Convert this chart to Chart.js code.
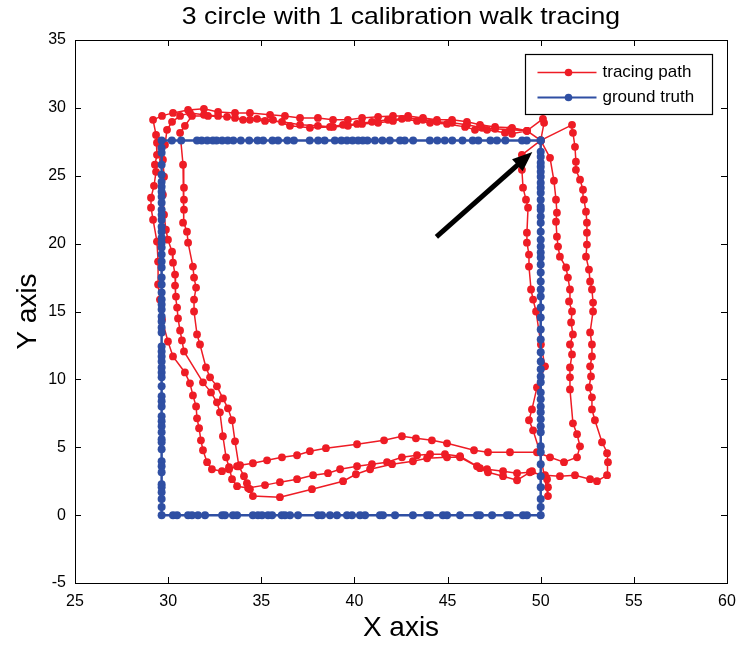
<!DOCTYPE html>
<html>
<head>
<meta charset="utf-8">
<title>3 circle with 1 calibration walk tracing</title>
<script src="https://cdn.jsdelivr.net/npm/chart.js@4.4.1/dist/chart.umd.min.js"></script>
<style>
  html, body { margin: 0; padding: 0; background: #fff; }
  #walkChart { display: block; }
</style>
</head>
<body>
<canvas id="walkChart" width="741" height="646"></canvas>
<script>
// ground truth rectangle: corners and the recorded sample positions along each side
const truthLeft = 29.65;
const truthRight = 50.0;
const truthTop = 27.6;
const truthBottom = 0;

// top side, right to left
const truthTopX = [50.0, 49.25, 49.0, 48.1, 47.65, 47.3, 46.65, 46.35, 45.8, 45.25, 44.85, 44.45, 44.05,
  43.15, 42.7, 42.45, 41.9, 41.5, 41.1, 40.7, 40.45, 40.2, 39.9, 39.6, 39.3, 38.95, 38.4, 38.05, 37.6,
  36.75, 36.4, 35.9, 35.6, 35.1, 34.8, 34.35, 33.9, 33.5, 33.2, 32.9, 32.6, 32.4, 32.1, 31.8, 31.55,
  30.7, 30.2, 29.65];
// left side, top to bottom
const truthLeftY = [27.06, 26.69, 25.81, 25.07, 24.56, 24.19, 23.82, 23.46, 23.01, 22.5, 22.13, 21.76,
  21.25, 20.88, 20.44, 20.07, 19.71, 19.19, 18.68, 18.24, 17.5, 16.99, 16.4, 15.88, 15.51, 15.15, 14.63,
  14.26, 13.82, 13.46, 12.43, 12.06, 11.69, 11.32, 10.88, 10.51, 10.15, 9.49, 8.75, 8.38, 8.01, 7.28,
  6.91, 6.54, 6.1, 5.59, 5.37, 4.85, 3.97, 3.6, 3.16, 2.28, 2.06, 1.69, 1.18, 0.59, 0];
// bottom side, left to right
const truthBottomX = [30.26, 30.48, 31.07, 31.28, 31.6, 31.98, 32.9, 33.05, 33.48, 33.7, 34.55, 34.82,
  35.04, 35.36, 35.58, 36.1, 36.27, 36.54, 36.97, 38.04, 38.26, 38.69, 39.06, 39.6, 39.87, 40.3, 40.57,
  41.37, 41.53, 42.18, 43.14, 43.9, 44.06, 44.75, 44.97, 45.67, 46.58, 46.74, 47.39, 48.19, 48.35,
  49.05, 49.26, 50.0];
// right side, bottom to top
const truthRightY = [0.59, 1.18, 2.06, 2.87, 3.75, 4.63, 5.07, 6.1, 6.54, 7.06, 7.57, 8.01, 8.53, 9.04,
  9.78, 10.22, 10.74, 11.32, 11.99, 12.94, 13.68, 14.56, 15.29, 16.1, 16.62, 17.21, 17.87, 18.46,
  18.97, 19.34, 19.78, 20.29, 20.88, 21.54, 21.99, 22.5, 22.72, 23.24, 23.75, 24.12, 24.49, 24.93,
  25.29, 25.66, 25.96, 26.4, 26.76, 27.6];

// estimated walk, one array per lap
const lap1 = [
  [50.0, 27.6], [49.26, 28.31], [48.46, 28.53], [47.55, 28.6], [46.74, 28.75], [46.04, 28.97],
  [45.24, 29.12], [44.43, 29.12], [43.68, 29.26], [42.88, 29.41], [42.07, 29.41], [41.27, 29.34],
  [40.41, 29.26], [39.65, 29.12], [38.85, 29.12], [38.04, 29.26], [37.08, 29.26], [36.27, 29.41],
  [35.47, 29.49], [34.39, 29.63], [33.59, 29.63], [32.68, 29.7], [31.92, 29.93], [31.07, 29.85],
  [30.26, 29.63], [29.67, 29.41], [29.19, 29.12],
  [29.35, 28.01], [29.4, 27.43], [29.4, 26.54], [29.29, 25.81], [29.35, 25.29], [29.24, 24.26],
  [29.08, 23.38], [29.08, 22.65], [29.19, 21.76], [29.4, 20.15], [29.46, 18.68], [29.46, 16.99],
  [29.56, 15.88], [29.67, 14.41], [29.99, 12.79], [30.26, 11.69], [30.9, 10.51], [31.17, 9.71],
  [31.33, 8.82], [31.5, 8.01], [31.55, 7.13], [31.66, 6.4], [31.76, 5.51], [31.87, 4.78],
  [32.09, 3.9], [32.35, 3.38], [32.89, 3.24], [33.27, 3.38], [33.7, 3.6], [33.86, 3.68],
  [34.55, 3.82], [35.31, 4.04], [36.11, 4.26], [36.92, 4.41], [37.61, 4.71], [38.47, 4.93],
  [40.14, 5.22], [41.59, 5.51], [42.55, 5.81], [43.3, 5.66], [44.16, 5.51], [44.97, 5.29],
  [46.42, 4.78], [47.17, 4.63], [48.35, 4.63], [49.8, 4.63], [50.5, 4.26], [51.25, 3.9],
  [51.95, 4.26], [52.11, 5.07], [51.95, 5.96], [51.73, 6.76],
  [51.57, 9.26], [51.57, 10.15], [51.57, 10.88], [51.68, 11.84], [51.57, 12.57], [51.73, 13.31],
  [51.63, 14.19], [51.68, 15.0], [51.52, 15.74], [51.57, 16.62], [51.46, 17.5], [51.36, 18.24],
  [51.03, 19.04], [50.93, 19.78], [50.87, 20.51], [50.82, 21.62], [50.87, 22.28], [50.82, 23.24],
  [50.71, 24.63], [50.5, 26.32], [50.0, 27.6], [50.18, 28.9], [50.12, 29.19]
];
const lap2 = [
  [49.26, 28.31], [48.35, 28.38], [47.55, 28.46], [46.85, 28.53], [46.04, 28.75], [45.24, 28.9],
  [44.43, 28.97], [43.68, 29.12], [42.88, 29.26], [42.07, 29.04], [41.27, 28.9], [40.41, 28.82],
  [39.65, 28.68], [38.85, 28.6], [38.04, 28.68], [37.08, 28.75], [36.11, 28.97], [35.2, 29.04],
  [34.39, 29.12], [33.59, 29.26], [32.68, 29.41], [31.92, 29.49], [31.17, 29.63], [30.64, 29.41],
  [30.21, 28.97], [29.94, 28.38],
  [29.83, 27.28], [29.72, 26.18], [29.78, 24.93], [29.72, 23.6], [29.78, 22.13], [29.88, 21.03],
  [29.99, 20.29], [30.21, 19.41], [30.26, 18.6], [30.37, 17.72], [30.37, 16.91], [30.42, 16.1],
  [30.48, 15.29], [30.53, 14.49], [30.64, 13.6], [30.74, 12.87], [30.85, 12.06], [31.87, 9.78],
  [32.3, 9.04], [32.62, 8.31], [32.78, 7.57], [32.94, 5.81], [33.11, 4.26], [33.27, 3.53],
  [33.43, 2.65], [33.7, 2.13], [34.29, 1.99], [35.2, 2.21], [36.0, 2.43],
  [36.92, 2.65], [37.78, 2.94], [38.58, 3.09], [39.23, 3.38], [40.14, 3.6], [40.94, 3.75],
  [41.75, 3.9], [42.55, 4.26], [43.36, 4.41], [44.06, 4.49], [44.86, 4.49], [45.67, 4.34],
  [46.58, 3.6], [47.12, 3.38], [47.98, 3.24], [48.73, 3.09], [49.42, 3.16], [50.23, 2.94],
  [51.03, 2.87], [51.84, 2.94], [52.65, 2.65], [53.02, 2.5], [53.56, 2.94], [53.61, 3.9],
  [53.56, 4.56], [53.29, 5.37], [52.91, 6.99], [52.75, 7.79], [52.75, 8.68], [52.59, 9.41],
  [52.7, 10.22], [52.65, 10.96], [52.75, 11.69], [52.75, 12.57], [52.65, 13.46], [52.81, 15.0],
  [52.81, 15.66], [52.75, 16.62], [52.65, 17.21], [52.59, 18.09], [52.43, 19.04], [52.48, 19.93],
  [52.48, 20.81], [52.48, 21.54], [52.43, 22.35], [52.32, 23.24], [52.27, 23.97], [52.11, 24.71],
  [51.89, 25.44], [51.89, 26.03], [51.84, 27.13], [51.73, 28.16], [51.68, 28.75], [50.0, 27.6]
];
const lap3 = [
  [49.26, 28.31], [48.46, 28.09], [48.08, 28.16], [47.12, 28.38], [46.47, 28.38], [45.94, 28.6],
  [44.97, 28.82], [44.06, 28.9], [43.36, 29.04], [42.55, 29.19], [41.8, 29.12], [40.94, 28.97],
  [40.14, 28.82], [39.39, 28.75], [38.69, 28.6], [37.61, 28.53], [36.54, 28.68], [35.63, 29.12],
  [34.77, 29.19], [34.02, 29.12], [33.16, 29.34], [32.14, 29.41], [31.28, 29.41], [30.9, 28.68],
  [30.64, 28.16],
  [30.8, 25.81], [30.85, 24.12], [30.85, 23.24], [30.85, 22.5], [30.8, 21.54], [31.01, 20.88],
  [31.07, 20.07], [31.33, 18.31], [31.39, 17.5], [31.5, 16.76], [31.39, 15.88], [31.39, 15.0],
  [31.55, 13.31], [31.71, 12.57], [32.03, 10.88], [32.25, 10.15], [32.62, 9.49], [32.94, 8.6],
  [33.21, 7.87], [33.43, 6.99], [33.59, 5.44], [33.8, 3.6], [34.07, 2.87], [34.23, 2.35],
  [34.39, 1.91], [34.55, 1.4], [36.0, 1.32], [37.72, 1.91], [39.39, 2.5], [40.08, 3.01],
  [40.84, 3.38], [42.02, 3.75], [43.14, 3.97], [43.9, 4.19], [44.97, 4.26], [45.67, 4.26],
  [46.74, 3.46], [47.17, 3.16], [47.98, 2.87], [48.73, 2.57], [49.53, 3.24], [50.34, 2.65],
  [50.39, 2.06], [50.39, 1.4], [49.96, 4.63], [49.59, 6.25], [49.37, 6.99], [49.53, 7.79],
  [49.8, 9.41], [50.23, 10.96], [50.01, 12.57], [49.75, 15.0], [49.59, 15.88], [49.48, 16.62],
  [49.37, 18.31], [49.37, 19.19], [49.26, 20.07], [49.26, 20.81], [49.32, 22.65], [49.21, 23.24],
  [49.05, 24.12], [48.99, 25.44], [48.99, 26.54], [50.0, 27.6]
];

// annotation arrow pointing at the start corner
const arrowFrom = [44.4, 20.5];
const arrowTo = [49.55, 26.75];

const xTicks = [25, 30, 35, 40, 45, 50, 55, 60];
const yTicks = [-5, 0, 5, 10, 15, 20, 25, 30, 35];

const chartTitle = '3 circle with 1 calibration walk tracing';
const seriesNames = ['tracing path', 'ground truth'];
const RED = '#ee1c25';
const BLUE = '#2f4fa3';
const FONT = '"Liberation Sans", Arial, Helvetica, sans-serif';

const truthPoints = [];
truthTopX.forEach(v => truthPoints.push({ x: v, y: truthTop }));
truthLeftY.forEach(v => truthPoints.push({ x: truthLeft, y: v }));
truthBottomX.forEach(v => truthPoints.push({ x: v, y: truthBottom }));
truthRightY.forEach(v => truthPoints.push({ x: truthRight, y: v }));

const walkPoints = lap1.concat(lap2, lap3).map(p => ({ x: p[0], y: p[1] }));

// title over the plot box, box, inward tick marks, arrow and legend
const decorations = {
  id: 'decorations',
  afterDatasetsDraw(chart) {
    const { ctx, chartArea: a, scales } = chart;
    const sx = scales.x, sy = scales.y;
    ctx.save();

    // title, centred on the plot box
    ctx.save();
    ctx.fillStyle = '#000';
    ctx.font = '24px ' + FONT;
    ctx.textAlign = 'center';
    ctx.textBaseline = 'middle';
    ctx.translate((a.left + a.right) / 2, 17);
    ctx.scale(1.11, 1);
    ctx.fillText(chartTitle, 0, 0);
    ctx.restore();

    // arrow
    const x0 = sx.getPixelForValue(arrowFrom[0]), y0 = sy.getPixelForValue(arrowFrom[1]);
    const x1 = sx.getPixelForValue(arrowTo[0]), y1 = sy.getPixelForValue(arrowTo[1]);
    const len = Math.hypot(x1 - x0, y1 - y0);
    const ux = (x1 - x0) / len, uy = (y1 - y0) / len;
    const head = 20, half = 8;
    const bx = x1 - ux * head, by = y1 - uy * head;
    ctx.strokeStyle = '#000';
    ctx.fillStyle = '#000';
    ctx.lineWidth = 5;
    ctx.beginPath();
    ctx.moveTo(x0, y0);
    ctx.lineTo(bx + ux * 2, by + uy * 2);
    ctx.stroke();
    ctx.beginPath();
    ctx.moveTo(x1, y1);
    ctx.lineTo(bx - uy * half, by + ux * half);
    ctx.lineTo(bx + uy * half, by - ux * half);
    ctx.closePath();
    ctx.fill();

    // frame
    ctx.lineWidth = 1;
    ctx.strokeRect(Math.round(a.left) + 0.5, Math.round(a.top) + 0.5,
      Math.round(a.width), Math.round(a.height));
    const tick = 6;
    ctx.beginPath();
    xTicks.forEach(v => {
      const px = Math.round(sx.getPixelForValue(v)) + 0.5;
      ctx.moveTo(px, a.bottom); ctx.lineTo(px, a.bottom - tick);
      ctx.moveTo(px, a.top); ctx.lineTo(px, a.top + tick);
    });
    yTicks.forEach(v => {
      const py = Math.round(sy.getPixelForValue(v)) + 0.5;
      ctx.moveTo(a.left, py); ctx.lineTo(a.left + tick, py);
      ctx.moveTo(a.right, py); ctx.lineTo(a.right - tick, py);
    });
    ctx.stroke();

    // legend
    const lw = 187, lh = 60;
    const lx = Math.round(a.right - 15 - lw) + 0.5, ly = Math.round(a.top + 14) + 0.5;
    ctx.fillStyle = '#fff';
    ctx.fillRect(lx, ly, lw, lh);
    ctx.strokeStyle = '#000';
    ctx.lineWidth = 1.2;
    ctx.strokeRect(lx, ly, lw, lh);
    const colors = [RED, BLUE];
    seriesNames.forEach((name, i) => {
      const ry = ly + 18 + i * 25;
      ctx.strokeStyle = colors[i];
      ctx.lineWidth = i === 0 ? 1.5 : 2;
      ctx.beginPath();
      ctx.moveTo(lx + 12, ry); ctx.lineTo(lx + 71, ry);
      ctx.stroke();
      ctx.fillStyle = colors[i];
      ctx.beginPath();
      ctx.arc(lx + 43, ry, 3.8, 0, Math.PI * 2);
      ctx.fill();
      ctx.fillStyle = '#000';
      ctx.font = '17px ' + FONT;
      ctx.textBaseline = 'middle';
      ctx.textAlign = 'left';
      ctx.fillText(name, lx + 77, ry);
    });
    ctx.restore();
  }
};

new Chart(document.getElementById('walkChart'), {
  type: 'scatter',
  data: {
    datasets: [
      {
        label: seriesNames[1],
        data: truthPoints,
        showLine: true,
        borderColor: BLUE,
        backgroundColor: BLUE,
        borderWidth: 2.5,
        pointRadius: 4,
        pointBorderWidth: 0,
        pointBackgroundColor: BLUE
      },
      {
        label: seriesNames[0],
        data: walkPoints,
        showLine: true,
        borderColor: RED,
        backgroundColor: RED,
        borderWidth: 1.5,
        pointRadius: 3.9,
        pointBorderWidth: 0,
        pointBackgroundColor: RED
      }
    ]
  },
  options: {
    responsive: false,
    animation: false,
    layout: { padding: { left: 0, right: 14, top: 40, bottom: 0 } },
    plugins: {
      legend: { display: false },
      tooltip: { enabled: false },
      title: { display: false }
    },
    scales: {
      x: {
        type: 'linear',
        min: 25,
        max: 60,
        afterBuildTicks(scale) { scale.ticks = xTicks.map(v => ({ value: v })); },
        ticks: { color: '#000', font: { family: FONT, size: 16 }, padding: 9, maxRotation: 0 },
        grid: { display: false, drawTicks: false },
        border: { display: false },
        title: {
          display: true, text: 'X axis', color: '#000',
          font: { family: FONT, size: 28 }, padding: { top: 0, bottom: 1 }
        },
        afterFit(scale) {
          scale.height = 63;
          scale.paddingLeft = 0;
          scale.paddingRight = 0;
        }
      },
      y: {
        type: 'linear',
        min: -5,
        max: 35,
        afterBuildTicks(scale) { scale.ticks = yTicks.map(v => ({ value: v })); },
        ticks: { color: '#000', font: { family: FONT, size: 16 }, padding: 9 },
        grid: { display: false, drawTicks: false },
        border: { display: false },
        title: {
          display: true, text: 'Y axis', color: '#000',
          font: { family: FONT, size: 28 }, padding: { top: 11, bottom: 0 }
        },
        afterFit(scale) {
          scale.width = 75;
          scale.paddingTop = 0;
          scale.paddingBottom = 0;
        }
      }
    }
  },
  plugins: [decorations]
});
</script>
</body>
</html>
